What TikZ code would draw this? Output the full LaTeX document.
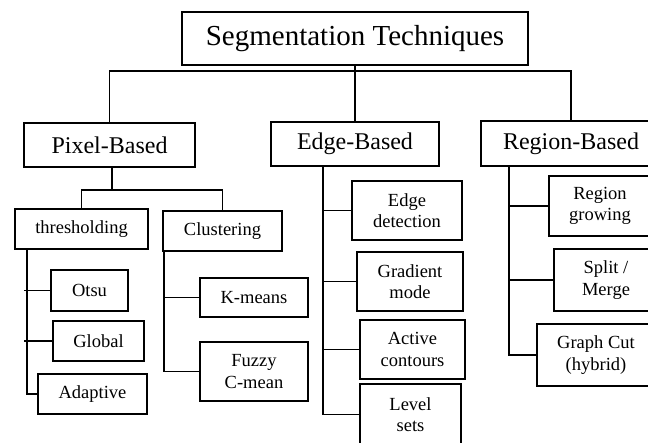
\documentclass[tikz,border=0pt]{standalone}
\usepackage{fontspec}
\setmainfont{Liberation Serif}
\begin{document}
\begin{tikzpicture}[x=1pt,y=-1pt,
  box/.style={draw, line width=1.1pt, inner sep=0pt, align=center},
  bigtxt/.style={font=\fontsize{29}{33}\selectfont},
  midtxt/.style={font=\fontsize{24}{28}\selectfont},
  smalltxt/.style={font=\fontsize{18.5}{21.5}\selectfont},
  link/.style={line width=1.1pt}]
\useasboundingbox (0,0) rectangle (648,442);
\clip (0,0) rectangle (648,442);

% root and first level
\node[box,bigtxt,minimum width=346pt,minimum height=53pt] (top) at (355,38.5) {Segmentation Techniques};
\node[box,midtxt,minimum width=171pt,minimum height=44pt] (pix) at (109.5,145) {Pixel-Based};
\node[box,midtxt,minimum width=168pt,minimum height=44pt] (edge) at (355,144) {Edge-Based};
\node[box,midtxt,minimum width=180pt,minimum height=45pt] (reg) at (571,143.5) {Region-Based};

% pixel-based branch
\node[box,smalltxt,minimum width=133pt,minimum height=40pt] (thr) at (81.5,229) {thresholding};
\node[box,smalltxt,minimum width=119pt,minimum height=40pt] (clu) at (222.5,231) {Clustering};
\node[box,smalltxt,minimum width=77pt,minimum height=41pt] (otsu) at (89.5,290.5) {Otsu};
\node[box,smalltxt,minimum width=91pt,minimum height=40pt] (glob) at (98.5,341) {Global};
\node[box,smalltxt,minimum width=109pt,minimum height=40pt] (ada) at (92.5,394) {Adaptive};
\node[box,smalltxt,minimum width=108pt,minimum height=39pt] (km) at (254,297.5) {K-means};
\node[box,smalltxt,minimum width=108pt,minimum height=59pt] (fuz) at (254,371.5) {Fuzzy\\C-mean};

% edge-based branch
\node[box,smalltxt,minimum width=110pt,minimum height=59pt] (edet) at (407,210.5) {Edge\\detection};
\node[box,smalltxt,minimum width=106pt,minimum height=59pt] (grad) at (410,281.5) {Gradient\\mode};
\node[box,smalltxt,minimum width=105pt,minimum height=59pt] (act) at (412.5,349.5) {Active\\contours};
\node[box,smalltxt,minimum width=101pt,minimum height=61pt] (lev) at (410.5,414.5) {Level\\sets};

% region-based branch
\node[box,smalltxt,minimum width=102pt,minimum height=60pt] (rgrow) at (600,206) {Region\\growing};
\node[box,smalltxt,minimum width=104pt,minimum height=62pt] (split) at (606,280) {Split /\\Merge};
\node[box,smalltxt,minimum width=118pt,minimum height=62pt] (gcut) at (596,355) {Graph Cut\\(hybrid)};

% junction points of the connectors
\coordinate (bus) at (355,71);
\coordinate (pbus) at (112,190);
\coordinate (tv) at (27,249);
\coordinate (ts) at (24,249);
\coordinate (cv) at (164,251);
\coordinate (ev) at (323,166);
\coordinate (rv) at (509,166);

% root connectors
\draw[link] (pix.north) |- (bus) -| (reg.north);
\draw[link] (top.south) -- (edge.north);

% pixel-based connectors
\draw[link] (pbus |- pix.south) -- (pbus);
\draw[link] (thr.north) |- (pbus) -| (clu.north);
\draw[link] (tv) |- (ada.west);
\draw[link] (ts |- otsu.west) -- (otsu.west);
\draw[link] (ts |- glob.west) -- (glob.west);
\draw[link] (cv) |- (fuz.west);
\draw[link] (cv |- km.west) -- (km.west);

% edge-based connectors
\draw[link] (ev) |- (lev.west);
\draw[link] (ev |- edet.west) -- (edet.west);
\draw[link] (ev |- grad.west) -- (grad.west);
\draw[link] (ev |- act.west) -- (act.west);

% region-based connectors
\draw[link] (rv) |- (gcut.west);
\draw[link] (rv |- rgrow.west) -- (rgrow.west);
\draw[link] (rv |- split.west) -- (split.west);
\end{tikzpicture}
\end{document}
